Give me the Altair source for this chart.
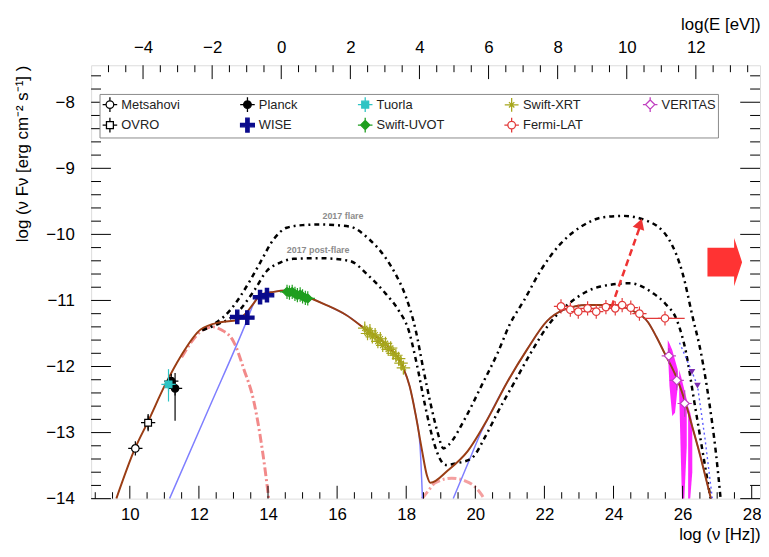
import altair as alt
import pandas as pd

# ---------------- axes ----------------
NU_RANGE = [8.88, 28.24]
LOGF_RANGE = [-14.0, -7.44]
EV_SHIFT = 14.383          # log10(nu/Hz) - log10(E/eV)
W, H = 676, 438
FONT = "Liberation Sans"

nu_major = [10, 12, 14, 16, 18, 20, 22, 24, 26, 28]
nu_minor = [v / 2 for v in range(18, 57) if v % 4 != 0]
ev_major = [-4, -2, 0, 2, 4, 6, 8, 10, 12]
ev_minor = [v / 2 for v in range(-10, 28) if v % 4 != 0]
y_major = [-14, -13, -12, -11, -10, -9, -8]
y_minor = [round(-14 + 0.2 * k, 1) for k in range(1, 33) if k % 5 != 0]

# ---------------- instruments ----------------
INSTRUMENTS = ["Metsahovi", "Planck", "Tuorla", "Swift-XRT", "VERITAS",
               "OVRO", "WISE", "Swift-UVOT", "Fermi-LAT"]
STROKES = ["#000000", "#000000", "#2ec4c4", "#a6a61c", "#c040c0",
           "#000000", "#0a0a8c", "#1f9e1f", "#e23a3a"]
FILLS = ["white", "#000000", "#2ec4c4", "transparent", "white",
         "white", "#0a0a8c", "#1f9e1f", "white"]
ARMS_C = "M-0.95,0L-0.5,0M0.5,0L0.95,0M0,-0.95L0,-0.5M0,0.5L0,0.95"
CIRCLE = "M-0.5,0A0.5,0.5,0,1,1,0.5,0A0.5,0.5,0,1,1,-0.5,0Z" + ARMS_C
SQUARE = ("M-0.45,-0.45L0.45,-0.45L0.45,0.45L-0.45,0.45Z"
          "M-0.95,0L-0.45,0M0.45,0L0.95,0M0,-0.95L0,-0.45M0,0.45L0,0.95")
DIAMOND = ("M0,-0.6L0.6,0L0,0.6L-0.6,0Z"
           "M-0.95,0L-0.6,0M0.6,0L0.95,0M0,-0.95L0,-0.6M0,0.6L0,0.95")
PLUS_BOLD = ("M-0.9,-0.22L-0.22,-0.22L-0.22,-0.9L0.22,-0.9L0.22,-0.22L0.9,-0.22"
             "L0.9,0.22L0.22,0.22L0.22,0.9L-0.22,0.9L-0.22,0.22L-0.9,0.22Z")
STAR = ("M-0.9,0L0.9,0M0,-0.9L0,0.9M-0.35,-0.35L0.35,0.35M-0.35,0.35L0.35,-0.35")
SHAPES = [CIRCLE, CIRCLE, SQUARE, STAR, DIAMOND, SQUARE, PLUS_BOLD, DIAMOND, CIRCLE]

metsahovi_nu = [10.16]
metsahovi_y = [-13.24]
metsahovi_lo = [-13.28]
metsahovi_hi = [-13.20]

ovro_nu = [10.53]
ovro_y = [-12.85]
ovro_lo = [-12.98]
ovro_hi = [-12.72]

planck_nu = [11.20, 11.31]
planck_y = [-12.22, -12.33]
planck_lo = [-12.27, -12.82]
planck_hi = [-12.17, -12.10]

tuorla_nu = [11.12]
tuorla_y = [-12.27]
tuorla_lo = [-12.53]
tuorla_hi = [-12.04]

wise_nu = [13.11, 13.40, 13.77, 13.97]
wise_y = [-11.25, -11.26, -10.95, -10.92]
wise_lo = [-11.29, -11.30, -10.99, -10.96]
wise_hi = [-11.21, -11.22, -10.91, -10.88]

uvot_nu = [14.55, 14.62, 14.70, 14.78, 14.85, 14.93, 15.00, 15.08, 15.15]
uvot_y = [-10.87, -10.88, -10.87, -10.90, -10.92, -10.91, -10.94, -10.96, -10.97]
uvot_lo = [-10.90, -10.91, -10.90, -10.93, -10.95, -10.94, -10.97, -10.99, -11.00]
uvot_hi = [-10.84, -10.85, -10.84, -10.87, -10.89, -10.88, -10.91, -10.93, -10.94]

xrt_nu = [16.80, 16.88, 16.95, 17.02, 17.10, 17.18, 17.25, 17.32,
          17.40, 17.48, 17.55, 17.62, 17.70, 17.78, 17.85, 17.92]
xrt_y = [-11.42, -11.50, -11.46, -11.55, -11.52, -11.62, -11.58, -11.68,
         -11.65, -11.74, -11.72, -11.80, -11.83, -11.88, -11.95, -12.02]
xrt_lo = [-11.48, -11.56, -11.52, -11.61, -11.58, -11.68, -11.64, -11.74,
          -11.71, -11.80, -11.78, -11.87, -11.90, -11.96, -12.04, -12.12]
xrt_hi = [-11.36, -11.44, -11.40, -11.49, -11.46, -11.56, -11.52, -11.62,
          -11.59, -11.68, -11.66, -11.73, -11.76, -11.80, -11.86, -11.92]

fermi_nu = [22.48, 22.75, 22.98, 23.25, 23.50, 23.78, 24.05, 24.25, 24.50, 24.75, 25.49]
fermi_y = [-11.09, -11.14, -11.17, -11.12, -11.17, -11.10, -11.12, -11.07, -11.11, -11.20, -11.27]
fermi_lo = [-11.15, -11.20, -11.23, -11.18, -11.23, -11.16, -11.18, -11.13, -11.17, -11.27, -11.33]
fermi_hi = [-11.03, -11.08, -11.11, -11.06, -11.11, -11.04, -11.06, -11.01, -11.05, -11.13, -11.21]
fermi_last_band = [24.86, 26.06]

veritas_nu = [25.60, 25.83, 26.06]
veritas_y = [-11.84, -12.21, -12.56]
veritas_lo = [-11.96, -12.36, -12.76]
veritas_hi = [-11.72, -12.06, -12.36]

veritas_ul_nu = [26.27, 26.43]
veritas_ul_y = [-12.08, -12.29]
veritas_ul_line_nu = [25.91, 26.27, 26.43, 26.65, 26.86]
veritas_ul_line_y = [-11.64, -12.08, -12.29, -13.10, -14.00]

# VERITAS butterfly (three lobes)
band_lobe = ["a", "a", "a", "a", "a", "b", "b", "b", "b", "c", "c", "c"]
band_nu = [25.57, 25.62, 25.70, 25.78, 25.86, 25.90, 25.98, 26.05, 26.12, 26.16, 26.22, 26.28]
band_top = [-11.60, -11.65, -11.75, -11.90, -12.05, -12.05, -12.20, -12.35, -12.50, -12.60, -12.70, -12.85]
band_bot = [-11.75, -12.30, -12.75, -12.70, -12.30, -12.40, -14.00, -14.00, -13.20, -14.00, -14.00, -13.60]

# ---------------- models ----------------
total_nu = [9.61, 10.15, 10.53, 11.01, 11.48, 12.05, 12.62, 13.10, 13.35, 13.59, 13.77,
            14.16, 14.54, 14.83, 15.69, 16.26, 16.83, 17.40, 17.89, 18.10, 18.27, 18.45,
            18.60, 18.70, 19.21, 19.78, 20.36, 20.93, 21.50, 22.08, 22.57, 23.23, 24.00,
            24.48, 25.00, 25.24, 25.47, 25.85, 26.10, 26.30, 26.50, 26.72, 26.82]
total_y = [-14.00, -13.24, -12.83, -12.29, -11.84, -11.44, -11.33, -11.30, -11.20, -11.04, -10.92,
           -10.87, -10.85, -10.89, -11.07, -11.22, -11.44, -11.66, -11.99, -12.30, -12.72, -13.25,
           -13.65, -13.76, -13.57, -13.28, -12.79, -12.23, -11.74, -11.31, -11.14, -11.07, -11.07,
           -11.14, -11.33, -11.55, -11.79, -12.20, -12.58, -12.95, -13.33, -13.79, -14.00]

sync_nu = [11.15, 12.30, 13.40, 13.59, 13.77, 14.16, 14.54, 14.83, 15.69, 16.26, 16.83,
           17.40, 17.89, 18.10, 18.27, 18.40, 18.47]
sync_y = [-14.00, -12.62, -11.29, -11.04, -10.92, -10.87, -10.85, -10.89, -11.07, -11.22, -11.44,
          -11.66, -11.99, -12.30, -12.72, -13.20, -14.00]

ic_nu = [19.36, 19.80, 20.18, 20.36, 20.93, 21.50, 22.08, 22.57, 23.23, 24.00, 24.48,
         25.00, 25.24, 25.47, 25.85, 26.10, 26.30, 26.50, 26.72, 26.82]
ic_y = [-14.00, -13.45, -12.98, -12.79, -12.23, -11.74, -11.31, -11.14, -11.07, -11.07, -11.14,
        -11.33, -11.55, -11.79, -12.20, -12.58, -12.95, -13.33, -13.79, -14.00]

ext_nu = [11.50, 12.05, 12.40, 12.63, 13.01, 13.30, 13.59, 13.77, 13.91, 14.02]
ext_y = [-11.86, -11.47, -11.40, -11.44, -11.63, -12.04, -12.53, -13.04, -13.54, -14.00]

ext_ic_nu = [18.46, 18.64, 18.84, 19.32, 19.70, 19.99, 20.18, 20.25]
ext_ic_y = [-14.00, -13.88, -13.76, -13.69, -13.73, -13.82, -13.94, -14.00]

flare_nu = [12.10, 12.90, 13.48, 13.77, 14.17, 14.54, 15.00, 15.49, 16.35, 16.92, 17.41,
            17.69, 17.98, 18.27, 18.50, 18.70, 18.90, 19.08, 19.22, 19.70, 20.18, 20.65,
            21.00, 21.42, 21.90, 22.47, 23.04, 23.71, 24.28, 24.95, 25.62, 26.00, 26.29,
            26.53, 26.77, 26.96, 27.10]
flare_y = [-11.45, -11.15, -10.70, -10.43, -10.07, -9.90, -9.86, -9.85, -9.88, -10.07, -10.36,
           -10.60, -10.93, -11.44, -12.05, -12.55, -12.98, -13.24, -13.19, -12.79, -12.29, -11.79,
           -11.36, -10.99, -10.54, -10.14, -9.89, -9.74, -9.72, -9.79, -10.09, -10.59, -11.25,
           -11.79, -12.54, -13.29, -14.00]

post_nu = [12.10, 12.45, 13.10, 13.60, 13.97, 14.34, 14.74, 15.49, 16.35, 16.92, 17.41,
           17.78, 18.07, 18.30, 18.55, 18.80, 19.00, 19.13, 19.50, 19.89, 20.30, 20.65,
           21.13, 21.61, 22.09, 22.85, 23.62, 24.48, 25.14, 25.50, 25.85, 26.10, 26.34, 26.58, 26.81]
post_y = [-11.45, -11.38, -11.19, -10.85, -10.55, -10.43, -10.37, -10.36, -10.40, -10.63, -10.90,
          -11.15, -11.45, -11.95, -12.60, -13.15, -13.42, -13.49, -13.46, -13.39, -13.05, -12.69,
          -12.24, -11.79, -11.39, -10.99, -10.79, -10.74, -10.89, -11.05, -11.32, -11.79, -12.54, -13.29, -14.00]

arrow_nu = [23.94, 24.78]
arrow_y = [-11.10, -9.86]
arrow_tip_nu = [24.77]
arrow_tip_y = [-9.84]
block_nu = [27.22]
block_y = [-10.42]

labels_text = ["2017 flare", "2017 post-flare"]
labels_nu = [16.17, 15.45]
labels_y = [-9.72, -10.24]

# ---------------- helpers ----------------
XS = alt.Scale(domain=NU_RANGE, nice=False, zero=False)
YS = alt.Scale(domain=LOGF_RANGE, nice=False, zero=False)

left_axis = alt.Axis(orient="left", values=y_major, ticks=False, domain=False, grid=False,
                     labelFontSize=17, labelPadding=17, labelFont=FONT, labelColor="black",
                     title="log (ν Fν [erg cm⁻² s⁻¹] )", titleAnchor="end", titleAlign="right",
                     titleFontSize=17, titleFontWeight="normal", titleFont=FONT,
                     titlePadding=14, titleColor="black")


def X(f, axis=None):
    return alt.X(f + ":Q", scale=XS, axis=axis)


def Y(f):
    return alt.Y(f + ":Q", scale=YS, axis=left_axis)


def line(nu, y, color, width, dash=None, interp="monotone"):
    kw = dict(color=color, strokeWidth=width, interpolate=interp, clip=True)
    if dash:
        kw["strokeDash"] = dash
    return alt.Chart(pd.DataFrame({"nu": nu, "y": y})).mark_line(**kw).encode(
        x=X("nu"), y=Y("y"))


# points table
rows = []
for name, nu, y, lo, hi in [
    ("Metsahovi", metsahovi_nu, metsahovi_y, metsahovi_lo, metsahovi_hi),
    ("OVRO", ovro_nu, ovro_y, ovro_lo, ovro_hi),
    ("Planck", planck_nu, planck_y, planck_lo, planck_hi),
    ("Tuorla", tuorla_nu, tuorla_y, tuorla_lo, tuorla_hi),
    ("WISE", wise_nu, wise_y, wise_lo, wise_hi),
    ("Swift-UVOT", uvot_nu, uvot_y, uvot_lo, uvot_hi),
    ("Swift-XRT", xrt_nu, xrt_y, xrt_lo, xrt_hi),
    ("Fermi-LAT", fermi_nu, fermi_y, fermi_lo, fermi_hi),
    ("VERITAS", veritas_nu, veritas_y, veritas_lo, veritas_hi),
]:
    for a, b, c, d in zip(nu, y, lo, hi):
        rows.append({"inst": name, "nu": a, "y": b, "lo": c, "hi": d})
pts = pd.DataFrame(rows)

legend = alt.Legend(
    title=None, orient="none", legendX=8.5, legendY=29, direction="horizontal",
    columns=5, columnPadding=57, rowPadding=0, padding=2,
    strokeColor="#8a8a8a", fillColor="white",
    symbolSize=240, symbolStrokeWidth=1.3, labelFontSize=13, labelFont=FONT,
    labelColor="#222222", labelOffset=3,
    labelExpr="datum.label == 'VERITAS' ? datum.label + '            ' : datum.label",
)
shape_enc = alt.Shape("inst:N", scale=alt.Scale(domain=INSTRUMENTS, range=SHAPES), legend=legend)
fill_enc = alt.Fill("inst:N", scale=alt.Scale(domain=INSTRUMENTS, range=FILLS))
stroke_enc = alt.Stroke("inst:N", scale=alt.Scale(domain=INSTRUMENTS, range=STROKES))

points = alt.Chart(pts).mark_point(size=230, opacity=1, strokeWidth=1.2, filled=True).encode(
    x=X("nu"), y=Y("y"), shape=shape_enc, fill=fill_enc, stroke=stroke_enc)

errbars = alt.Chart(pts).mark_rule(strokeWidth=1.2).encode(
    x=X("nu"), y=Y("lo"), y2="hi:Q", stroke=stroke_enc)

fermi_x_err = alt.Chart(pd.DataFrame({"a": [fermi_last_band[0]], "b": [fermi_last_band[1]],
                                       "y": [fermi_y[-1]]})).mark_rule(
    color="#e23a3a", strokeWidth=1.2).encode(x=X("a"), x2="b:Q", y=Y("y"))

band = alt.Chart(pd.DataFrame({"nu": band_nu, "t": band_top, "b": band_bot, "g": band_lobe})).mark_area(
    color="#ff00ff", opacity=0.85, interpolate="linear", clip=True).encode(
    x=X("nu"), y=Y("t"), y2="b:Q", detail="g:N")

ul_line = line(veritas_ul_line_nu, veritas_ul_line_y, "#5a5aff", 1.4, [2, 3], "linear")
ul_pts = alt.Chart(pd.DataFrame({"nu": veritas_ul_nu, "y": veritas_ul_y})).mark_point(
    shape="triangle-down", filled=True, color="#7a2ab0", size=45, opacity=1).encode(
    x=X("nu"), y=Y("y"))

arrow = line(arrow_nu, arrow_y, "#ee3333", 2.5, [7, 4], "linear")
arrow_head = alt.Chart(pd.DataFrame({"nu": arrow_tip_nu, "y": arrow_tip_y})).mark_point(
    shape="triangle-up", filled=True, color="#ee3333", size=150, angle=18.5, opacity=1).encode(
    x=X("nu"), y=Y("y"))

BLOCK_ARROW = "M-1,-0.83L0.54,-0.83L0.54,-1.4L1,0L0.54,1.4L0.54,0.83L-1,0.83Z"
block = alt.Chart(pd.DataFrame({"nu": block_nu, "y": block_y})).mark_point(
    shape=BLOCK_ARROW, filled=True, color="#ff3333", size=1225, opacity=1, strokeWidth=0).encode(
    x=X("nu"), y=Y("y"))

texts = alt.Chart(pd.DataFrame({"nu": labels_nu, "y": labels_y, "t": labels_text})).mark_text(
    fontSize=9, fontWeight="bold", color="#8c8c8c", font=FONT).encode(
    x=X("nu"), y=Y("y"), text="t:N")


def xticks(values, y0, y1, axis=None):
    return alt.Chart(pd.DataFrame({"v": values})).mark_rule(color="black", strokeWidth=1).encode(
        x=alt.X("v:Q", scale=XS, axis=axis), y=alt.value(y0), y2=alt.value(y1))


def yticks(values, x0, x1):
    return alt.Chart(pd.DataFrame({"v": values})).mark_rule(color="black", strokeWidth=1).encode(
        y=Y("v"), x=alt.value(x0), x2=alt.value(x1))


bottom_axis = alt.Axis(orient="bottom", values=nu_major, ticks=False, domain=False, grid=False,
                       labelFontSize=17, labelPadding=8, labelFont=FONT, labelColor="black",
                       title="log (ν [Hz])", titleAnchor="end", titleAlign="right",
                       titleFontSize=17, titleFontWeight="normal", titleFont=FONT,
                       titlePadding=4, titleColor="black")
top_axis = alt.Axis(orient="top", values=[e + EV_SHIFT for e in ev_major],
                    labelExpr="format(round(datum.value - 14.383), 'd')",
                    ticks=False, domain=False, grid=False,
                    labelFontSize=17, labelPadding=9, labelFont=FONT, labelColor="black",
                    title="log(E [eV])", titleAnchor="end", titleAlign="right",
                    titleFontSize=17, titleFontWeight="normal", titleFont=FONT,
                    titlePadding=5, titleColor="black")

tick_layers = [
    xticks(nu_major, H, H - 13, bottom_axis),
    xticks(nu_minor, H, H - 6.5),
    xticks([e + EV_SHIFT for e in ev_major], 0, 14, top_axis),
    xticks([e + EV_SHIFT for e in ev_minor], 0, 7),
    yticks(y_major, 0, 20),
    yticks(y_minor, 0, 10),
    yticks(y_major, W, W - 20),
    yticks(y_minor, W, W - 10),
]

chart = alt.layer(
    band,
    line(ext_nu, ext_y, "#f28a8a", 3, [9, 3, 2, 3]),
    line(ext_ic_nu, ext_ic_y, "#f4a0a0", 3, [9, 3, 2, 3]),
    line(sync_nu, sync_y, "#7f7fff", 1.5),
    line(ic_nu, ic_y, "#7f7fff", 1.5),
    line(flare_nu, flare_y, "black", 2.5, [5, 4, 2, 4]),
    line(post_nu, post_y, "black", 2.5, [5, 4, 2, 4]),
    line(total_nu, total_y, "#9a3d14", 2),
    ul_line, ul_pts,
    errbars, fermi_x_err, points,
    arrow, arrow_head, block, texts,
    *tick_layers,
).resolve_axis(x="independent").properties(
    width=W, height=H,
    autosize=alt.AutoSizeParams(type="none"),
    padding={"left": 84, "top": 55, "right": 1, "bottom": 45},
).configure_view(stroke="black", strokeWidth=1.2).configure_legend(
    strokeWidth=1.5).configure(font=FONT)

chart.save("out.html", embed_options={"renderer": "svg", "actions": False})
